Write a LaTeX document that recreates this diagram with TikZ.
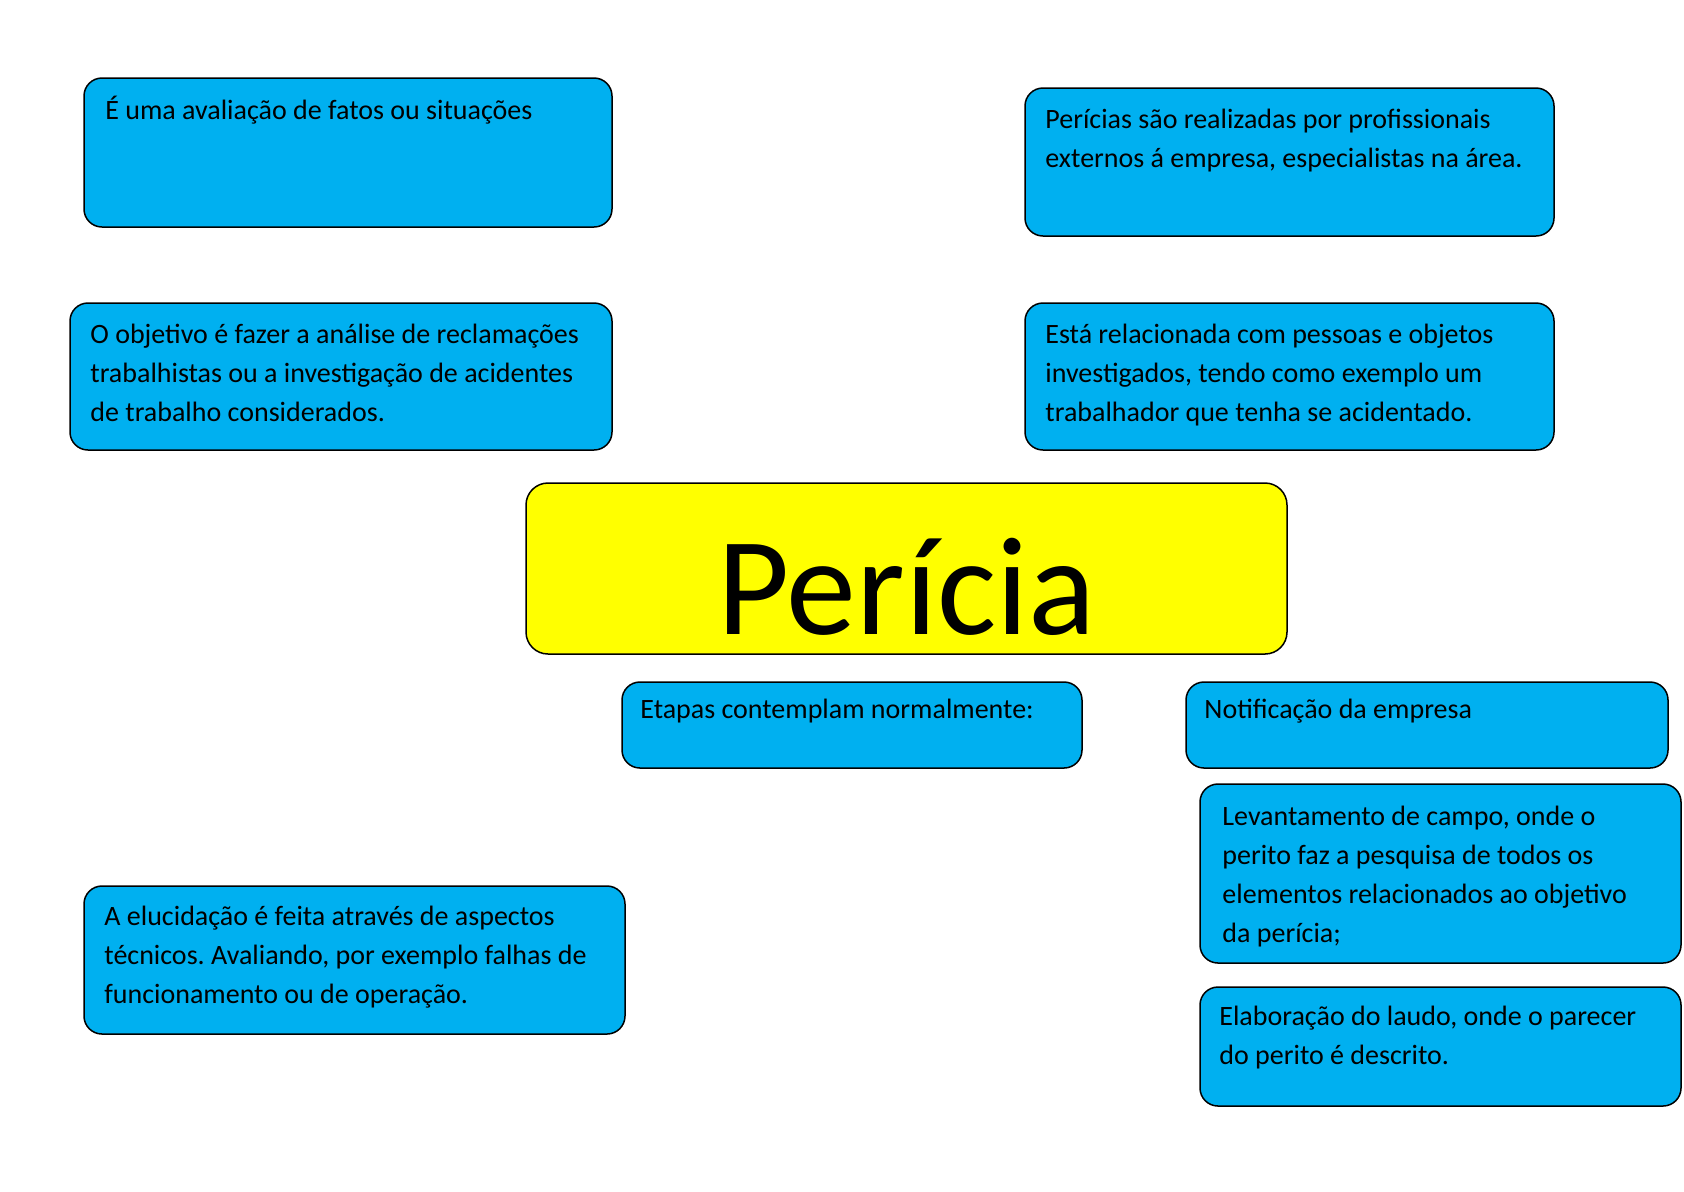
\documentclass[tikz,border=0pt]{standalone}
\usepackage{fontspec}
\setmainfont{Carlito}
\frenchspacing
\definecolor{boxblue}{HTML}{00B0F0}
\definecolor{titleyellow}{HTML}{FFFF00}
\newcommand{\mylines}[1]{\vtop{\halign{##\hfil\cr#1\crcr}}}
\begin{document}
\begin{tikzpicture}[x=0.5pt,y=-0.5pt,
  bbox/.style={draw=black, line width=0.75pt, fill=boxblue, rounded corners=9pt, inner sep=0pt},
  ybox/.style={draw=black, line width=0.75pt, fill=titleyellow, rounded corners=11pt, inner sep=0pt},
  btext/.style={anchor=base west, inner sep=0pt, font=\fontsize{14}{19.6}\selectfont}]
\useasboundingbox (0,0) rectangle (1684,1191);
\fill[white] (0,0) rectangle (1684,1191);
% boxes
\node[bbox, minimum width=264pt, minimum height=74.5pt] (b1) at (348,152.5) {};
\node[bbox, minimum width=271pt, minimum height=73.5pt] (b2) at (341,376.5) {};
\node[bbox, minimum width=264.5pt, minimum height=74pt] (b3) at (1289.5,162) {};
\node[bbox, minimum width=264.5pt, minimum height=73.5pt] (b4) at (1289.5,376.5) {};
\node[ybox, minimum width=380.5pt, minimum height=85.5pt] (title) at (906.5,568.5) {};
\node[bbox, minimum width=230pt, minimum height=43pt] (etapas) at (852,725) {};
\node[bbox, minimum width=241pt, minimum height=43pt] (notif) at (1427,725) {};
\node[bbox, minimum width=240.5pt, minimum height=89.5pt] (lev) at (1440.5,873.5) {};
\node[bbox, minimum width=240.5pt, minimum height=59.5pt] (elab) at (1440.5,1046.5) {};
\node[bbox, minimum width=270.5pt, minimum height=74pt] (eluc) at (354.5,960) {};
% texts (anchored at the baseline of their first line)
\node[btext] (t1) at (105,119) {\mylines{É uma avaliação de fatos ou situações}};
\node[btext] (t2) at (90,343) {\mylines{O objetivo é fazer a análise de reclamações\cr trabalhistas ou a investigação de acidentes\cr de trabalho considerados.}};
\node[btext] (t3) at (1045,128) {\mylines{Perícias são realizadas por profissionais\cr externos á empresa, especialistas na área.}};
\node[btext] (t4) at (1045,343) {\mylines{Está relacionada com pessoas e objetos\cr investigados, tendo como exemplo um\cr trabalhador que tenha se acidentado.}};
\node[anchor=base, inner sep=0pt, font=\fontsize{70}{84}\selectfont] (tt) at (906.5,634) {Perícia};
\node[btext] (t5) at (640,718.5) {\mylines{Etapas contemplam normalmente:}};
\node[btext] (t6) at (1204,718.5) {\mylines{Notificação da empresa}};
\node[btext] (t7) at (1222,825) {\mylines{Levantamento de campo, onde o\cr perito faz a pesquisa de todos os\cr elementos relacionados ao objetivo\cr da perícia;}};
\node[btext] (t8) at (1219,1025) {\mylines{Elaboração do laudo, onde o parecer\cr do perito é descrito.}};
\node[btext] (t9) at (104,925) {\mylines{A elucidação é feita através de aspectos\cr técnicos. Avaliando, por exemplo falhas de\cr funcionamento ou de operação.}};
\end{tikzpicture}
\end{document}
